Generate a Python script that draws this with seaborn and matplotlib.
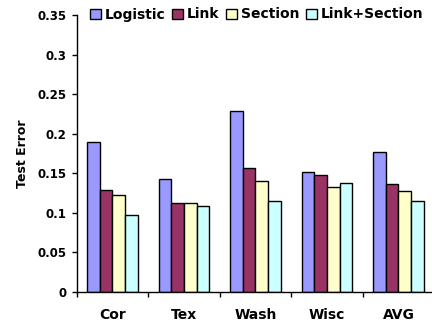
import matplotlib
matplotlib.use("Agg")
import matplotlib.pyplot as plt
from matplotlib.ticker import FixedLocator, FixedFormatter
import pandas as pd
import seaborn as sns

# Test error per dataset for each classifier variant
categories = ["Cor", "Tex", "Wash", "Wisc", "AVG"]
methods = ["Logistic", "Link", "Section", "Link+Section"]
logistic = [0.189, 0.143, 0.228, 0.152, 0.177]
link = [0.129, 0.112, 0.156, 0.147, 0.136]
section = [0.122, 0.112, 0.140, 0.132, 0.127]
link_section = [0.097, 0.109, 0.115, 0.138, 0.115]
colors = ["#9999FF", "#993366", "#FFFFCC", "#CCFFFF"]
ytick_values = [0, 0.05, 0.1, 0.15, 0.2, 0.25, 0.3, 0.35]
ytick_labels = ["0", "0.05", "0.1", "0.15", "0.2", "0.25", "0.3", "0.35"]

rows = []
for method, values in zip(methods, [logistic, link, section, link_section]):
    for cat, v in zip(categories, values):
        rows.append({"dataset": cat, "method": method, "error": v})
df = pd.DataFrame(rows)

sns.set_style("white")
plt.rcParams["font.family"] = ["DejaVu Sans"]
plt.rcParams["font.weight"] = "bold"
plt.rcParams["text.color"] = "black"
plt.rcParams["axes.labelcolor"] = "black"
plt.rcParams["xtick.color"] = "black"
plt.rcParams["ytick.color"] = "black"

fig = plt.figure(figsize=(4.32, 3.24), dpi=100)
ax = fig.add_axes([0.1775, 0.0997, 0.8275, 0.854])

sns.barplot(data=df, x="dataset", y="error", hue="method",
            order=categories, hue_order=methods, palette=colors,
            saturation=1, width=0.71, edgecolor="black", linewidth=1,
            errorbar=None, ax=ax)

ax.set_xlim(-0.5, len(categories) - 0.5)
ax.set_ylim(0, 0.35)
ax.yaxis.set_major_locator(FixedLocator(ytick_values))
ax.yaxis.set_major_formatter(FixedFormatter(ytick_labels))
ax.set_xlabel("")
ax.set_ylabel("Test Error", fontsize=9, fontweight="bold", labelpad=6, color="black")

for side in ["top", "right"]:
    ax.spines[side].set_visible(False)
for side in ["left", "bottom"]:
    ax.spines[side].set_color("black")
    ax.spines[side].set_linewidth(1)

ax.tick_params(axis="y", which="major", direction="out", length=3.6,
               width=1, color="black", labelcolor="black", pad=3.6,
               labelsize=8.5, left=True)
ax.tick_params(axis="x", which="major", length=0, pad=11.5, labelsize=10,
               labelcolor="black")
ax.xaxis.set_minor_locator(FixedLocator([i - 0.5 for i in range(len(categories) + 1)]))
ax.tick_params(axis="x", which="minor", direction="out", length=3.6,
               width=1, color="black", bottom=True)
for lbl in ax.get_xticklabels() + ax.get_yticklabels():
    lbl.set_fontweight("bold")

handles, labels = ax.get_legend_handles_labels()
leg = ax.legend(handles, labels, ncol=4, frameon=False, loc="center left",
                bbox_to_anchor=(90 / 432, 1 - 14.5 / 324), bbox_transform=fig.transFigure,
                borderpad=0, borderaxespad=0, handlelength=0.8, handleheight=0.7,
                handletextpad=0.25, columnspacing=0.5,
                prop={"size": 10, "weight": "bold"})
for t in leg.get_texts():
    t.set_color("black")

fig.savefig("out.png", dpi=100)
